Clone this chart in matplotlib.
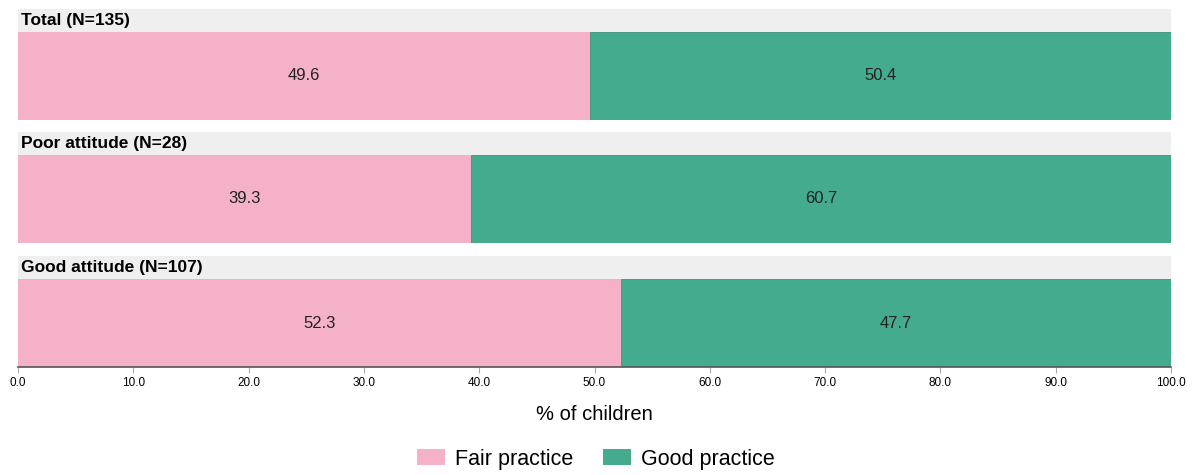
import matplotlib
matplotlib.use("Agg")
import matplotlib.pyplot as plt
from matplotlib.patches import Rectangle, Patch

plt.rcParams['font.family'] = ['Liberation Sans', 'DejaVu Sans']

# practice level by attitude group
groups = ["Total (N=135)", "Poor attitude (N=28)", "Good attitude (N=107)"]
fair = [49.6, 39.3, 52.3]
good = [50.4, 60.7, 47.7]
series_names = ["Fair practice", "Good practice"]
xticks = [0, 10, 20, 30, 40, 50, 60, 70, 80, 90, 100]

pink = "#F5B1C8"
green = "#45AB8E"
strip_bg = "#EFEFEF"

W, H = 1192, 475
fig = plt.figure(figsize=(W / 100, H / 100), dpi=100)

left, right = 18, 1171
strip_tops = [9, 132, 256]
strip_h = 23
bar_h = 88

for i, (name, f, g) in enumerate(zip(groups, fair, good)):
    top = strip_tops[i]
    # strip header
    sax = fig.add_axes([left / W, 1 - (top + strip_h) / H, (right - left) / W, strip_h / H])
    sax.set_xlim(0, 1)
    sax.set_ylim(0, 1)
    sax.add_patch(Rectangle((0, 0), 1, 1, color=strip_bg))
    sax.text(0.003, 0.48, name, fontsize=12.5, fontweight="bold", va="center", ha="left")
    sax.axis("off")

    # stacked bar
    ax = fig.add_axes([left / W, 1 - (top + strip_h + bar_h) / H, (right - left) / W, bar_h / H])
    ax.barh(0, f, height=1, color=pink, edgecolor="none")
    ax.barh(0, g, left=f, height=1, color=green, edgecolor="#3a8f76", linewidth=0.6)
    ax.text(f / 2, 0, f"{f:.1f}", ha="center", va="center", fontsize=12, color="#222222")
    ax.text(f + g / 2, 0, f"{g:.1f}", ha="center", va="center", fontsize=12, color="#222222")
    ax.set_xlim(0, 100)
    ax.set_ylim(-0.5, 0.5)
    ax.set_yticks([])
    for s in ["top", "left", "right"]:
        ax.spines[s].set_visible(False)
    if i == len(groups) - 1:
        ax.spines["bottom"].set_color("#555555")
        ax.spines["bottom"].set_linewidth(1.2)
        ax.set_xticks(xticks)
        ax.set_xticklabels([f"{t:.1f}" for t in xticks], fontsize=8.5)
        ax.tick_params(axis="x", length=4, color="#aaaaaa", pad=3)
        ax.set_xlabel("% of children", fontsize=14.5, labelpad=12)
    else:
        ax.spines["bottom"].set_visible(False)
        ax.set_xticks([])

handles = [Patch(facecolor=pink, edgecolor="none"), Patch(facecolor=green, edgecolor="none")]
fig.legend(handles, series_names, loc="center", bbox_to_anchor=(0.5, 1 - 459 / H),
           ncol=2, frameon=False, fontsize=15.5, handlelength=1.3, handleheight=0.8,
           columnspacing=1.4, handletextpad=0.47)

fig.savefig("out.png", dpi=100)
